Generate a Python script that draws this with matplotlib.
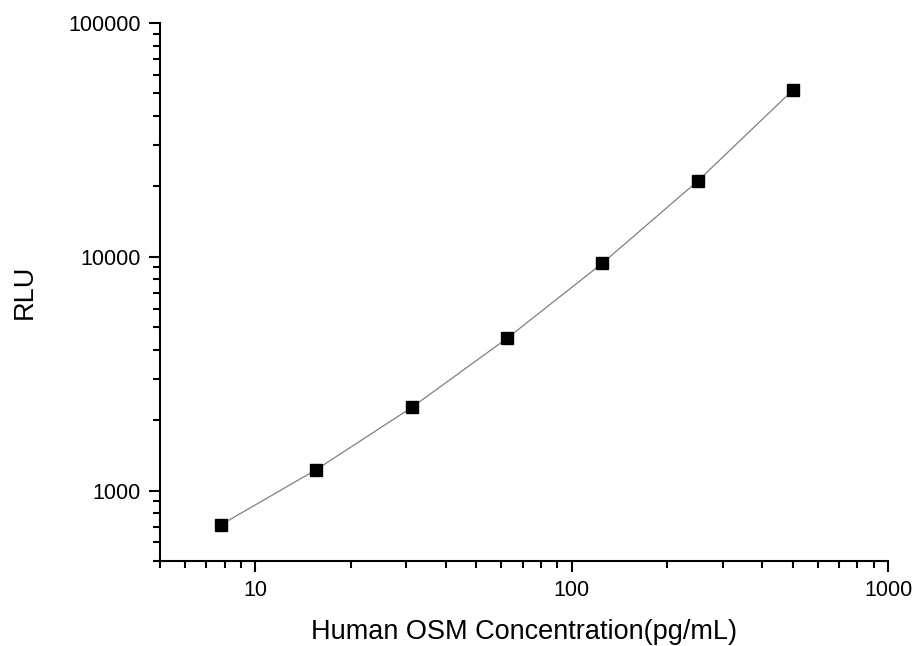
import matplotlib
matplotlib.use('Agg')
import matplotlib.pyplot as plt
from matplotlib.ticker import LogLocator, NullFormatter, FixedLocator, FixedFormatter

plt.rcParams['font.family'] = ['Liberation Sans', 'DejaVu Sans']

# standard curve data
conc = [7.8, 15.6, 31.25, 62.5, 125, 250, 500]
rlu = [715, 1230, 2270, 4480, 9380, 21050, 51600]

x_ticks = [10, 100, 1000]
x_labels = ['10', '100', '1000']
y_ticks = [1000, 10000, 100000]
y_labels = ['1000', '10000', '100000']

fig = plt.figure(figsize=(9.15, 6.46), dpi=100)
ax = fig.add_axes([0.1749, 0.1316, 0.7956, 0.8328])

ax.plot(conc, rlu, color='#808080', linewidth=0.9, zorder=1)
ax.plot(conc, rlu, linestyle='none', marker='s', markersize=8,
        color='black', zorder=2)

ax.set_xscale('log')
ax.set_yscale('log')
ax.set_xlim(5, 1000)
ax.set_ylim(500, 100000)

ax.xaxis.set_major_locator(FixedLocator(x_ticks))
ax.xaxis.set_major_formatter(FixedFormatter(x_labels))
ax.yaxis.set_major_locator(FixedLocator(y_ticks))
ax.yaxis.set_major_formatter(FixedFormatter(y_labels))
ax.xaxis.set_minor_locator(LogLocator(base=10, subs=range(2, 10)))
ax.yaxis.set_minor_locator(LogLocator(base=10, subs=range(2, 10)))
ax.xaxis.set_minor_formatter(NullFormatter())
ax.yaxis.set_minor_formatter(NullFormatter())

for s in ['top', 'right']:
    ax.spines[s].set_visible(False)
for s in ['left', 'bottom']:
    ax.spines[s].set_linewidth(1.5)

ax.tick_params(which='major', direction='out', length=8, width=1.5,
               labelsize=15.5, pad=6)
ax.tick_params(which='minor', direction='out', length=5, width=1.5)

ax.set_xlabel('Human OSM Concentration(pg/mL)', fontsize=19.5, labelpad=13)
ax.set_ylabel('RLU', fontsize=19.5, labelpad=22)

fig.savefig('out.png', dpi=100)
